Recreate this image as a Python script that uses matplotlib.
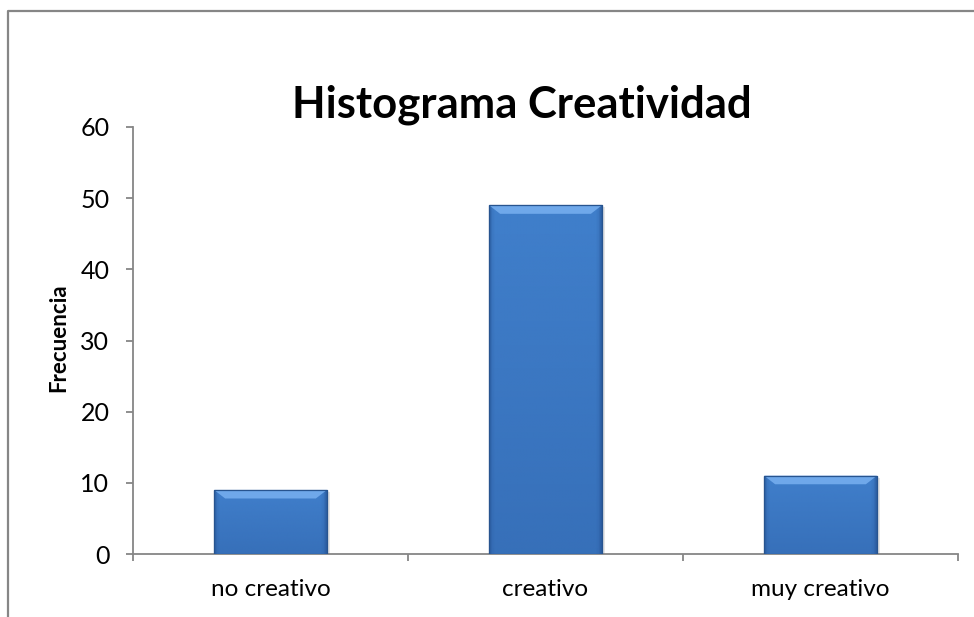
import numpy as np
import matplotlib
matplotlib.use("Agg")
import matplotlib.pyplot as plt
from matplotlib.lines import Line2D
from matplotlib.colors import LinearSegmentedColormap

# Data
categorias = ["no creativo", "creativo", "muy creativo"]
frecuencia = [9, 49, 11]
y_ticks = [0, 10, 20, 30, 40, 50, 60]

plt.rcParams['font.family'] = ['Lato', 'DejaVu Sans']

fig = plt.figure(figsize=(9.74, 6.17), dpi=100)
ax = fig.add_axes([133/974, 1 - 554/617, 825/974, 427/617])

x = np.arange(len(categorias))
bars = ax.bar(x, frecuencia, width=0.41, color="#3F7DC8", edgecolor="#2B5A95",
              linewidth=0.8, zorder=3)

# Excel-like bevelled fill, clipped to each bar
cmap = LinearSegmentedColormap.from_list(
    "bev", ["#2F62A6", "#3C78C2", "#407FCB", "#407FCB", "#3C78C2", "#2F62A6"])
gx = np.linspace(0, 1, 80)
edge = np.minimum(gx, 1 - gx)
grad = 0.5 - 0.5 * np.clip(1 - edge / 0.06, 0, 1)[None, :].repeat(80, axis=0)
grad = np.where(gx[None, :] > 0.5, 1 - grad, grad)
for b in bars:
    x0, w, h = b.get_x(), b.get_width(), b.get_height()
    # soft shadow
    ax.add_patch(plt.Rectangle((x0 + 0.01, -0.3), w, h, color="#000000",
                               alpha=0.10, zorder=2, linewidth=0))
    im = ax.imshow(grad, cmap=cmap, extent=(x0, x0 + w, 0, h), aspect="auto",
                   zorder=3.5, interpolation="bilinear", vmin=0, vmax=1)
    im.set_clip_path(b)
    # darker toward the bottom
    shade = np.linspace(0, 1, 60)[:, None]
    ims = ax.imshow(shade, cmap=LinearSegmentedColormap.from_list(
        "sh", [(0.15, 0.33, 0.6, 0.0), (0.15, 0.33, 0.6, 0.35)]),
        extent=(x0, x0 + w, 0, h), aspect="auto", zorder=3.55, origin="upper")
    ims.set_clip_path(b)
    # lighter top bevel with slanted corners
    bev = 1.2
    dx = 0.04
    ax.add_patch(plt.Polygon([(x0, h), (x0 + w, h), (x0 + w - dx, h - bev),
                              (x0 + dx, h - bev)], closed=True,
                             color="#6FA8EA", zorder=3.6, linewidth=0))
    ax.add_patch(plt.Rectangle((x0, 0), w, h, fill=False, edgecolor="#27548F",
                               linewidth=0.9, zorder=3.7))

ax.set_xlim(-0.5, len(categorias) - 0.5)
ax.set_ylim(0, 60)
ax.set_yticks(y_ticks)
ax.set_xticks(x)
ax.set_xticklabels(categorias)
ax.set_xticks(np.arange(len(categorias) + 1) - 0.5, minor=True)

for s in ["top", "right"]:
    ax.spines[s].set_visible(False)
for s in ["left", "bottom"]:
    ax.spines[s].set_color("#868686")
    ax.spines[s].set_linewidth(1.3)

ax.tick_params(axis="y", length=5, width=1.3, color="#868686", pad=12,
               labelsize=18, labelcolor="black")
ax.tick_params(axis="x", which="major", length=0, pad=18, labelsize=17.5)
ax.tick_params(axis="x", which="minor", length=5, width=1.3, color="#868686")

fig.text(59/974, 1 - 338/617, "Frecuencia", rotation=90, ha="center",
         va="center", fontsize=16, fontweight="bold")
fig.text(522/974, 1 - 118/617, "Histograma Creatividad", ha="center",
         va="baseline", fontsize=31.4, fontweight="bold")

# chart frame (cropped Excel chart area)
fig.add_artist(Line2D([8/974, 8/974, 1.0], [0, 1 - 10.5/617, 1 - 10.5/617],
                      transform=fig.transFigure, color="#868686", linewidth=1.6))

fig.savefig("out.png", dpi=100)
